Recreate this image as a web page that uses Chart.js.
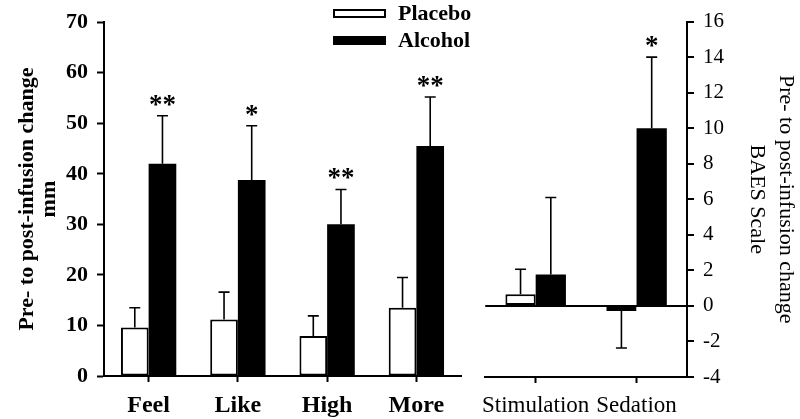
<!DOCTYPE html>
<html>
<head>
<meta charset="utf-8">
<script src="https://cdn.jsdelivr.net/npm/chart.js@4.4.0/dist/chart.umd.min.js"></script>
<style>
    body { margin: 0; background: #fff; width: 800px; height: 419px; overflow: hidden; position: relative; font-family: "Liberation Serif", serif; }
    #leftChart { position: absolute; left: 0; top: 0; }
    #rightChart { position: absolute; left: 470px; top: 0; }
    .legend-row { position: absolute; left: 333px; height: 26px; font-weight: bold; font-size: 22px; line-height: 26px; }
    .legend-box { position: absolute; left: 0; width: 53px; box-sizing: border-box; border: 2px solid #000; }
    .legend-text { position: absolute; left: 65px; white-space: nowrap; }
</style>
</head>
<body>
<canvas id="leftChart" width="470" height="419"></canvas>
<canvas id="rightChart" width="330" height="419"></canvas>

<div class="legend-row" style="top:0px;">
    <div class="legend-box" style="top:9px; height:9px; background:#fff;"></div>
    <div class="legend-text">Placebo</div>
</div>
<div class="legend-row" style="top:27px;">
    <div class="legend-box" style="top:9px; height:9px; background:#000;"></div>
    <div class="legend-text">Alcohol</div>
</div>

<script>
// Subjective effects (mm), left panel
const leftLabels = ['Feel', 'Like', 'High', 'More'];
const placeboLeft = [9.6, 11.2, 7.9, 13.5];
const placeboLeftErr = [3.9, 5.4, 4.0, 6.0];
const alcoholLeft = [42.0, 38.8, 30.0, 45.5];
const alcoholLeftErr = [9.5, 10.7, 6.9, 9.7];
const leftStars = ['**', '*', '**', '**'];
const leftTicks = [0, 10, 20, 30, 40, 50, 60, 70];

// BAES scale, right panel
const rightLabels = ['Stimulation', 'Sedation'];
const placeboRight = [0.66, -0.29];
const placeboRightErr = [1.4, 2.08];
const alcoholRight = [1.77, 10.0];
const alcoholRightErr = [4.33, 4.0];
const rightStars = ['', '*'];
const rightTicks = [-4, -2, 0, 2, 4, 6, 8, 10, 12, 14, 16];

Chart.defaults.font.family = "'Liberation Serif', serif";
Chart.defaults.color = '#000';

// Draws error bars and significance stars above the bars
const errorBarPlugin = {
    id: 'errorBars',
    afterDatasetsDraw(chart, args, opts) {
        const ctx = chart.ctx;
        const yScale = chart.scales.y;
        ctx.save();
        chart.data.datasets.forEach((ds, di) => {
            const meta = chart.getDatasetMeta(di);
            const errs = opts.errors[di];
            meta.data.forEach((bar, i) => {
                const v = ds.data[i];
                const dir = v < 0 ? -1 : 1;
                const end = yScale.getPixelForValue(v + dir * errs[i]);
                ctx.strokeStyle = '#000';
                ctx.lineWidth = 1.6;
                ctx.beginPath();
                ctx.moveTo(bar.x, bar.y);
                ctx.lineTo(bar.x, end);
                ctx.moveTo(bar.x - 5.5, end);
                ctx.lineTo(bar.x + 5.5, end);
                ctx.stroke();
                if (opts.stars[di] && opts.stars[di][i]) {
                    ctx.fillStyle = '#000';
                    ctx.font = "bold 27px 'Liberation Serif', serif";
                    ctx.textAlign = 'center';
                    ctx.textBaseline = 'alphabetic';
                    ctx.fillText(opts.stars[di][i], bar.x, end - 3);
                }
            });
        });
        ctx.restore();
    }
};

new Chart(document.getElementById('leftChart'), {
    type: 'bar',
    data: {
        labels: leftLabels,
        datasets: [{
            label: 'Placebo',
            data: placeboLeft,
            backgroundColor: '#fff',
            borderColor: '#000',
            borderWidth: 2,
            borderSkipped: false
        }, {
            label: 'Alcohol',
            data: alcoholLeft,
            backgroundColor: '#000',
            borderColor: '#000',
            borderWidth: 0
        }]
    },
    options: {
        responsive: false,
        animation: false,
        layout: { padding: { top: 21, right: 9, left: 0, bottom: 0 } },
        datasets: { bar: { categoryPercentage: 0.62, barPercentage: 1 } },
        plugins: {
            legend: { display: false },
            tooltip: { enabled: false },
            errorBars: { errors: [placeboLeftErr, alcoholLeftErr], stars: [null, leftStars] }
        },
        scales: {
            x: {
                grid: { drawOnChartArea: false, offset: false, tickLength: 6, tickColor: '#000', tickWidth: 2 },
                border: { color: '#000', width: 2 },
                ticks: { font: { size: 24, weight: 'bold' }, padding: 9, autoSkip: false, maxRotation: 0 },
                afterFit: s => { s.height = 43; }
            },
            y: {
                min: 0,
                max: 70,
                afterBuildTicks: s => { s.ticks = leftTicks.map(v => ({ value: v })); },
                grid: { drawOnChartArea: false, tickLength: 7, tickColor: '#000', tickWidth: 2 },
                border: { color: '#000', width: 2 },
                ticks: { font: { size: 22, weight: 'bold' }, padding: 9 },
                title: {
                    display: true,
                    text: ['Pre- to post-infusion change', 'mm'],
                    font: { size: 22, weight: 'bold', lineHeight: 1.0 },
                    padding: { top: 16, bottom: 0 }
                },
                afterFit: s => { s.width = 104; }
            }
        }
    },
    plugins: [errorBarPlugin]
});

new Chart(document.getElementById('rightChart'), {
    type: 'bar',
    data: {
        labels: rightLabels,
        datasets: [{
            label: 'Placebo',
            data: placeboRight,
            backgroundColor: '#fff',
            borderColor: '#000',
            borderWidth: 2,
            borderSkipped: false
        }, {
            label: 'Alcohol',
            data: alcoholRight,
            backgroundColor: '#000',
            borderColor: '#000',
            borderWidth: 0
        }]
    },
    options: {
        responsive: false,
        animation: false,
        layout: { padding: { top: 21, right: 0, left: 12, bottom: 0 } },
        datasets: { bar: { categoryPercentage: 0.6, barPercentage: 1 } },
        plugins: {
            legend: { display: false },
            tooltip: { enabled: false },
            errorBars: { errors: [placeboRightErr, alcoholRightErr], stars: [null, rightStars] }
        },
        scales: {
            x: {
                grid: { drawOnChartArea: false, offset: false, tickLength: 6, tickColor: '#000', tickWidth: 2 },
                border: { color: '#000', width: 2 },
                ticks: { font: { size: 23 }, padding: 9, autoSkip: false, maxRotation: 0 },
                afterFit: s => { s.height = 42; }
            },
            y: {
                position: 'right',
                min: -4,
                max: 16,
                afterBuildTicks: s => { s.ticks = rightTicks.map(v => ({ value: v })); },
                grid: {
                    color: c => (c.tick && c.tick.value === 0 ? '#000' : 'rgba(0,0,0,0)'),
                    lineWidth: 2,
                    tickLength: 7,
                    tickColor: '#000',
                    tickWidth: 2
                },
                border: { color: '#000', width: 2 },
                ticks: { font: { size: 21 }, padding: 9 },
                title: {
                    display: true,
                    text: ['Pre- to post-infusion change', 'BAES Scale'],
                    font: { size: 22, lineHeight: 1.3 },
                    padding: { top: 0, bottom: 0 }
                },
                afterFit: s => { s.width = 113; }
            }
        }
    },
    plugins: [errorBarPlugin]
});
</script>
</body>
</html>
